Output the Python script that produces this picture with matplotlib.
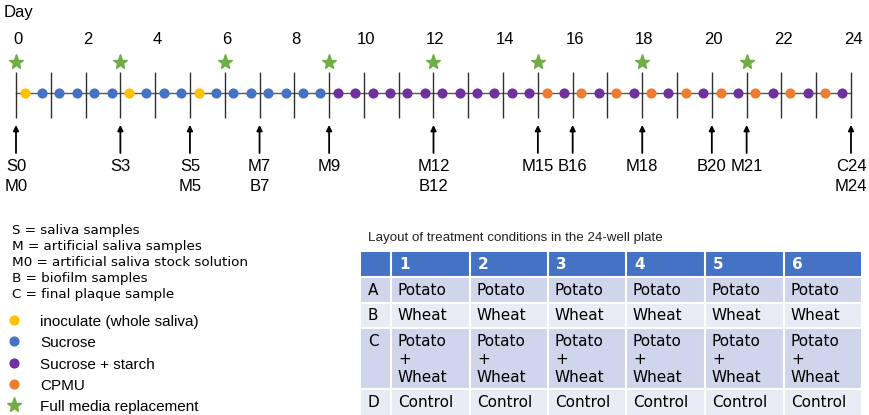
import matplotlib.pyplot as plt
from matplotlib.patches import Rectangle

# ==============================================================================
# data
# ==============================================================================

# timeline (days)
day_ticks = list(range(0, 25))
day_labels = list(range(0, 25, 2))

# feeding times (twice a day) and what was fed
feed_times = [0.25 + 0.5 * i for i in range(48)]
feed_types = ['I', 'S', 'S', 'S', 'S', 'S', 'I', 'S', 'S', 'S', 'I', 'S',
              'S', 'S', 'S', 'S', 'S', 'S', 'P', 'P', 'P', 'P', 'P', 'P',
              'P', 'P', 'P', 'P', 'P', 'P', 'C', 'P', 'C', 'P', 'C', 'P',
              'C', 'P', 'C', 'P', 'C', 'P', 'C', 'P', 'C', 'P', 'C', 'P']

media_change_days = [0, 3, 6, 9, 12, 15, 18, 21]

sample_days = [0, 3, 5, 7, 9, 12, 15, 16, 18, 20, 21, 24]
sample_labels = ['S0\nM0', 'S3', 'S5\nM5', 'M7\nB7', 'M9', 'M12\nB12', 'M15',
                 'B16', 'M18', 'B20', 'M21', 'C24\nM24']

definitions = ['S = saliva samples',
               'M = artificial saliva samples',
               'M0 = artificial saliva stock solution',
               'B = biofilm samples',
               'C = final plaque sample']

feed_names = {'I': 'inoculate (whole saliva)', 'S': 'Sucrose',
              'P': 'Sucrose + starch', 'C': 'CPMU'}
feed_colors = {'I': '#FFC000', 'S': '#4472C4', 'P': '#7030A0', 'C': '#ED7D31'}
star_color = '#70AD47'

# 24-well plate layout
plate_title = 'Layout of treatment conditions in the 24-well plate'
plate_cols = ['1', '2', '3', '4', '5', '6']
plate_rows = ['A', 'B', 'C', 'D']
plate_conditions = ['Potato', 'Wheat', 'Potato\n+\nWheat', 'Control']

# ==============================================================================
# figure
# ==============================================================================

W, H = 870, 415
fig = plt.figure(figsize=(W / 100, H / 100), dpi=100)

# timeline axes: x in days, y in pixels
k = 835 / 24
ax = fig.add_axes([0, 0, 1, 1])
ax.set_xlim(-16 / k, (W - 16) / k)
ax.set_ylim(H, 0)
ax.axis('off')

arial = 'Liberation Sans'
dejavu = 'DejaVu Sans'

ax.text(-12 / k, 13, 'Day', fontsize=12, family=arial, ha='left', va='center')
for d in day_labels:
    ax.text(d + 2 / k, 40, str(d), fontsize=12, family=arial, ha='center', va='center')

ax.plot([day_ticks[0], day_ticks[-1]], [93, 93], color='#595959', lw=1, zorder=1)
ax.vlines(day_ticks, 72, 118, color='#303030', lw=1, zorder=1)

for t, f in zip(feed_times, feed_types):
    ax.plot(t, 93, 'o', ms=6.3, color=feed_colors[f], mec=feed_colors[f], zorder=3)

ax.plot(media_change_days, [62] * len(media_change_days), '*', ms=11,
        color=star_color, mec=star_color, linestyle='none')

for d, lab in zip(sample_days, sample_labels):
    ax.annotate('', xy=(d, 125), xytext=(d, 153),
                arrowprops=dict(arrowstyle='-|>', color='black', lw=1.3,
                                mutation_scale=8, shrinkA=0, shrinkB=0))
    for j, line in enumerate(lab.split('\n')):
        ax.text(d, 166 + 20 * j, line, fontsize=12, family=arial,
                ha='center', va='center')

# lower part: pixel axes
bx = fig.add_axes([0, 0, 1, 1])
bx.set_xlim(0, W)
bx.set_ylim(H, 0)
bx.axis('off')
bx.patch.set_alpha(0)

for i, line in enumerate(definitions):
    bx.text(12, 230.5 + 16 * i, line, fontsize=9.7, family=dejavu,
            ha='left', va='center')

legend_keys = ['I', 'S', 'P', 'C']
for i, key in enumerate(legend_keys):
    y = 320 + 21.3 * i
    bx.plot(14, y, 'o', ms=6.3, color=feed_colors[key])
    bx.text(40, y + 2, feed_names[key], fontsize=11, family=arial, va='center')
bx.plot(14, 405, '*', ms=11, color=star_color)
bx.text(40, 406.5, 'Full media replacement', fontsize=11, family=arial, va='center')

# table
bx.text(368, 238, plate_title, fontsize=9.6, family=arial, color='#222222',
        ha='left', va='center')
col_x = [361, 391, 470, 548, 626, 705, 784, 861]
row_y = [252, 277, 302.5, 328, 389, 416]
row_fill = ['#CFD5EA', '#E9EBF5', '#CFD5EA', '#E9EBF5']

bx.add_patch(Rectangle((col_x[0], row_y[0]), col_x[-1] - col_x[0],
                       row_y[1] - row_y[0], color='#4472C4', lw=0))
for c, name in enumerate(plate_cols):
    bx.text(col_x[c + 1] + 8, (row_y[0] + row_y[1]) / 2, name, fontsize=11,
            family=dejavu, weight='bold', color='white', va='center')

for r, (rname, cond) in enumerate(zip(plate_rows, plate_conditions)):
    y0, y1 = row_y[r + 1], row_y[r + 2]
    bx.add_patch(Rectangle((col_x[0], y0), col_x[-1] - col_x[0], y1 - y0,
                           color=row_fill[r], lw=0))
    bx.text(col_x[0] + 7, y0 + 13, rname, fontsize=11, family=dejavu, va='center')
    for c in range(len(plate_cols)):
        for j, line in enumerate(cond.split('\n')):
            bx.text(col_x[c + 1] + 7, y0 + 13 + 18 * j, line, fontsize=11,
                    family=dejavu, va='center')

# white cell borders
for x in col_x[1:-1]:
    bx.plot([x, x], [row_y[0], H], color='white', lw=1.5)
for y in row_y[1:-1]:
    bx.plot([col_x[0], col_x[-1]], [y, y], color='white', lw=1.5)

fig.savefig('out.png', dpi=100)
